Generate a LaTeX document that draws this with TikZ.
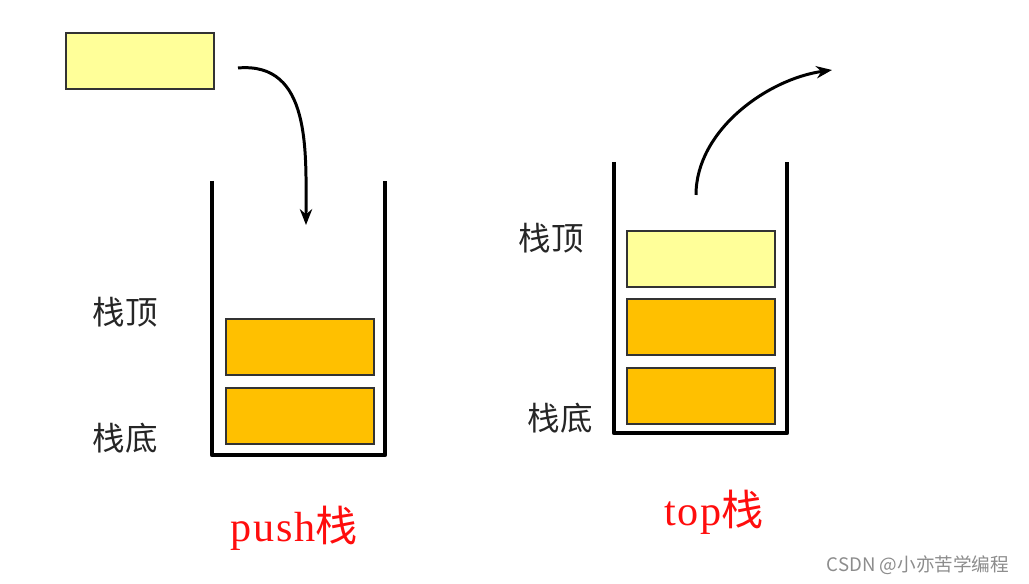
\documentclass[tikz,border=0pt]{standalone}
\usepackage{fontspec}
\setmainfont{Liberation Serif}
\newfontfamily\cjksans{Noto Sans CJK SC}
\newfontfamily\cjkserif{Noto Sans CJK SC}
\usetikzlibrary{arrows.meta,shadows}
\definecolor{palegold}{HTML}{FFFF99}
\definecolor{amber}{HTML}{FFC000}
\definecolor{wallgrey}{HTML}{555555}
\tikzset{
  elem/.style={draw=wallgrey!60!black, line width=0.9pt, minimum width=2.96cm,
    minimum height=1.12cm, inner sep=0pt,
    drop shadow={shadow xshift=0.6pt, shadow yshift=-0.8pt, fill=black!30, opacity=1}},
  newelem/.style={elem, fill=palegold},
  oldelem/.style={elem, fill=amber},
  wall/.style={line width=2.6pt, line join=round},
  move/.style={line width=1.7pt, -{Stealth[length=9pt,width=7pt]}},
  side/.style={font=\cjksans\fontsize{18.5}{18.5}\selectfont, text=black!85},
  caption/.style={font=\addfontfeature{LetterSpace=4}\fontsize{24}{24}\selectfont, text=red!95!white}
}
\begin{document}
\begin{tikzpicture}[x=0.02cm,y=0.02cm]
    \useasboundingbox (0,0) rectangle (1029,584);
    % push
    \node [newelem] (pushin) at (140,523) {};
    \coordinate (pushtl) at (212,403);
    \coordinate (pushtr) at (385,403);
    \draw [wall] (pushtl) -- (212,129) -- (385,129) -- (pushtr);
    \node [oldelem] (push2) at (300,237) {};
    \node [oldelem] (push1) at (300,168) {};
    \coordinate (pushfrom) at (238,516);
    \coordinate (pushto) at (306,359);
    \draw [move] (pushfrom) to[out=5,in=90,looseness=1.1] (pushto);
    \node [side] (pushtop) at (125,272) {栈顶};
    \node [side] (pushbot) at (125,146) {栈底};
    \node [caption] (pushcap) at (294,56) {push{\cjkserif\fontsize{24}{24}\selectfont 栈}};
    % top
    \coordinate (toptl) at (614,422);
    \coordinate (toptr) at (787,422);
    \draw [wall] (toptl) -- (614,151) -- (787,151) -- (toptr);
    \node [newelem] (top3) at (701,325) {};
    \node [oldelem] (top2) at (701,257) {};
    \node [oldelem] (top1) at (701,188) {};
    \coordinate (topfrom) at (696,389);
    \coordinate (topto) at (832,514);
    \draw [move] (topfrom) to[out=90,in=188,looseness=0.9] (topto);
    \node [side] (toptop) at (551,346) {栈顶};
    \node [side] (topbot) at (560,166) {栈底};
    \node [caption] (topcap) at (714,72) {top{\cjkserif\fontsize{24}{24}\selectfont 栈}};
    % mark
    \node [font=\cjksans\fontsize{10.6}{10.6}\selectfont, text=black!45] (mark) at (918,19) {CSDN @小亦苦学编程};
\end{tikzpicture}
\end{document}
